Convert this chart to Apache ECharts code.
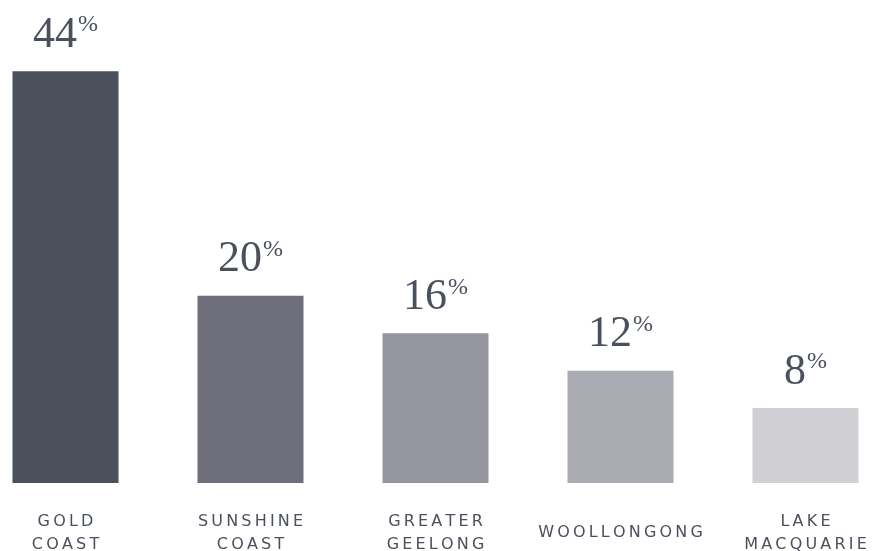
<!DOCTYPE html>
<html><head><meta charset="utf-8">
<script src="https://cdn.jsdelivr.net/npm/echarts@6/dist/echarts.min.js"></script>
<style>html,body{margin:0;padding:0;background:#fff;overflow:hidden}
#c{position:absolute;left:-27.5px;top:0;width:925px;height:551px}</style>
</head><body><div id="c"></div>
<script>
const categories = ['GOLD\nCOAST', 'SUNSHINE\nCOAST', 'GREATER\nGEELONG', 'WOOLLONGONG', 'LAKE\nMACQUARIE'];
const values = [44, 20, 16, 12, 8];
const colors = ['#4b505d', '#6e6f7b', '#95959f', '#ababb4', '#cfcfd4'];

function spaced(s) {
  return s.split('\n').map(l => l.split('').join('\u2009')).join('\n');
}
const catStyle = { color: '#4b505d', fontFamily: 'DejaVu Sans', fontSize: 16, lineHeight: 23 };
const chart = echarts.init(document.getElementById('c'));
chart.setOption({
  animation: false,
  grid: { left: 0, right: 0, top: 15, bottom: 68, outerBoundsMode: 'none', containLabel: false },
  xAxis: {
    type: 'category',
    data: categories,
    axisLine: { show: false }, axisTick: { show: false },
    axisLabel: Object.assign({
      formatter: v => v.indexOf('\n') < 0 ? '{one|' + spaced(v) + '}' : spaced(v),
      margin: 27, interval: 0,
      rich: { one: Object.assign({}, catStyle, { lineHeight: 46 }) }
    }, catStyle)
  },
  yAxis: { type: 'value', min: 0, max: 50, show: false, splitLine: { show: false } },
  series: [{
    type: 'bar',
    barWidth: 106,
    data: values.map((v, i) => ({ value: v, itemStyle: { color: colors[i] } })),
    label: {
      show: true, position: 'top', distance: 14,
      formatter: p => '{v|' + p.value + '}{p|%}',
      rich: {
        v: { fontFamily: 'Liberation Serif', fontSize: 44, color: '#4b505d' },
        p: { fontFamily: 'Liberation Serif', fontSize: 24, color: '#4b505d', verticalAlign: 'top', padding: [0,0,18,1] }
      }
    }
  }]
});
</script></body></html>
